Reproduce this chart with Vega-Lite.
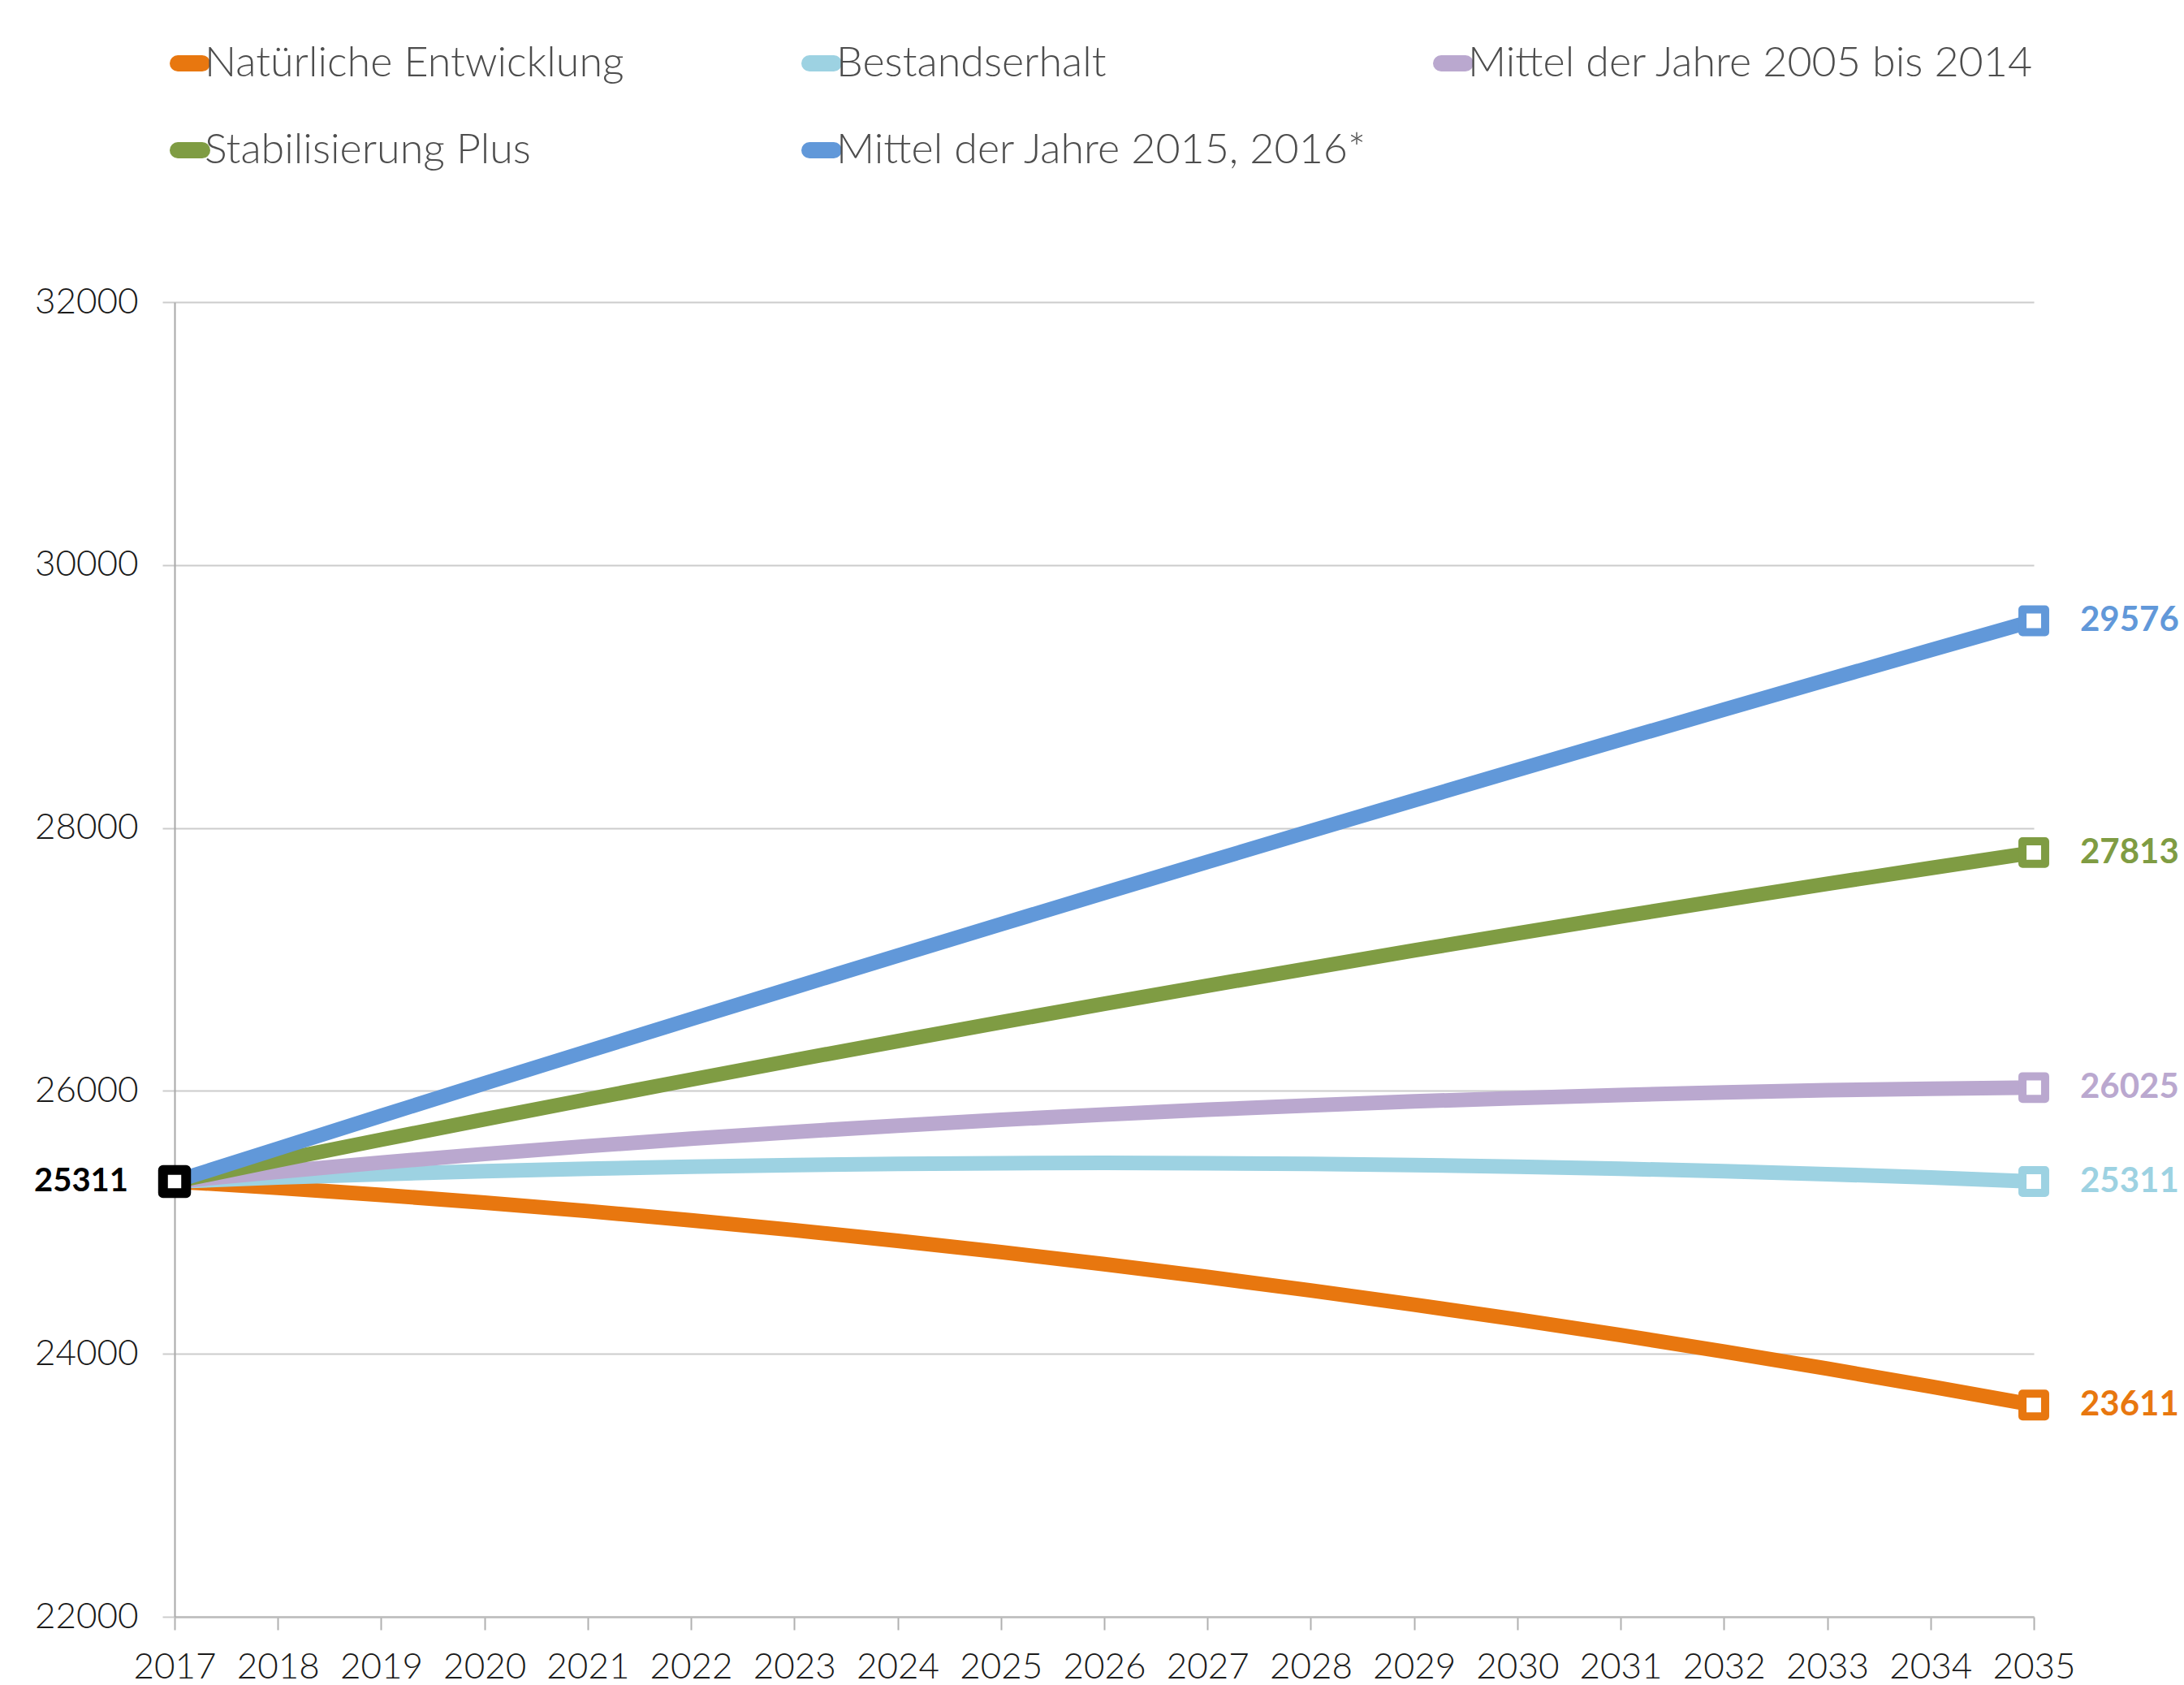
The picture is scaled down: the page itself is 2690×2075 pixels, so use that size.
{
  "$schema": "https://vega.github.io/schema/vega-lite/v6.json",
  "width": 2290,
  "height": 1619,
  "autosize": {"type": "none"},
  "padding": {"left": 215, "top": 372, "right": 185, "bottom": 84},
  "background": "white",
  "config": {
    "view": {"stroke": null},
    "font": "Lato",
    "axis": {"labelFont": "Lato", "labelFontWeight": 300, "labelColor": "#1a1a1a", "labelFontSize": 44, "titleFontSize": 0}
  },
  "data": {
    "values": [
      {"year": 2017, "series": "Natürliche Entwicklung", "value": 25311},
      {"year": 2018, "series": "Natürliche Entwicklung", "value": 25263},
      {"year": 2019, "series": "Natürliche Entwicklung", "value": 25209},
      {"year": 2020, "series": "Natürliche Entwicklung", "value": 25150},
      {"year": 2021, "series": "Natürliche Entwicklung", "value": 25086},
      {"year": 2022, "series": "Natürliche Entwicklung", "value": 25016},
      {"year": 2023, "series": "Natürliche Entwicklung", "value": 24941},
      {"year": 2024, "series": "Natürliche Entwicklung", "value": 24860},
      {"year": 2025, "series": "Natürliche Entwicklung", "value": 24774},
      {"year": 2026, "series": "Natürliche Entwicklung", "value": 24682},
      {"year": 2027, "series": "Natürliche Entwicklung", "value": 24585},
      {"year": 2028, "series": "Natürliche Entwicklung", "value": 24482},
      {"year": 2029, "series": "Natürliche Entwicklung", "value": 24374},
      {"year": 2030, "series": "Natürliche Entwicklung", "value": 24261},
      {"year": 2031, "series": "Natürliche Entwicklung", "value": 24142},
      {"year": 2032, "series": "Natürliche Entwicklung", "value": 24017},
      {"year": 2033, "series": "Natürliche Entwicklung", "value": 23887},
      {"year": 2034, "series": "Natürliche Entwicklung", "value": 23752},
      {"year": 2035, "series": "Natürliche Entwicklung", "value": 23611},
      {"year": 2017, "series": "Bestandserhalt", "value": 25311},
      {"year": 2018, "series": "Bestandserhalt", "value": 25341},
      {"year": 2019, "series": "Bestandserhalt", "value": 25367},
      {"year": 2020, "series": "Bestandserhalt", "value": 25389},
      {"year": 2021, "series": "Bestandserhalt", "value": 25408},
      {"year": 2022, "series": "Bestandserhalt", "value": 25424},
      {"year": 2023, "series": "Bestandserhalt", "value": 25436},
      {"year": 2024, "series": "Bestandserhalt", "value": 25445},
      {"year": 2025, "series": "Bestandserhalt", "value": 25450},
      {"year": 2026, "series": "Bestandserhalt", "value": 25452},
      {"year": 2027, "series": "Bestandserhalt", "value": 25450},
      {"year": 2028, "series": "Bestandserhalt", "value": 25445},
      {"year": 2029, "series": "Bestandserhalt", "value": 25436},
      {"year": 2030, "series": "Bestandserhalt", "value": 25424},
      {"year": 2031, "series": "Bestandserhalt", "value": 25408},
      {"year": 2032, "series": "Bestandserhalt", "value": 25389},
      {"year": 2033, "series": "Bestandserhalt", "value": 25367},
      {"year": 2034, "series": "Bestandserhalt", "value": 25341},
      {"year": 2035, "series": "Bestandserhalt", "value": 25311},
      {"year": 2017, "series": "Mittel der Jahre 2005 bis 2014", "value": 25311},
      {"year": 2018, "series": "Mittel der Jahre 2005 bis 2014", "value": 25385},
      {"year": 2019, "series": "Mittel der Jahre 2005 bis 2014", "value": 25455},
      {"year": 2020, "series": "Mittel der Jahre 2005 bis 2014", "value": 25520},
      {"year": 2021, "series": "Mittel der Jahre 2005 bis 2014", "value": 25580},
      {"year": 2022, "series": "Mittel der Jahre 2005 bis 2014", "value": 25636},
      {"year": 2023, "series": "Mittel der Jahre 2005 bis 2014", "value": 25688},
      {"year": 2024, "series": "Mittel der Jahre 2005 bis 2014", "value": 25736},
      {"year": 2025, "series": "Mittel der Jahre 2005 bis 2014", "value": 25780},
      {"year": 2026, "series": "Mittel der Jahre 2005 bis 2014", "value": 25820},
      {"year": 2027, "series": "Mittel der Jahre 2005 bis 2014", "value": 25857},
      {"year": 2028, "series": "Mittel der Jahre 2005 bis 2014", "value": 25890},
      {"year": 2029, "series": "Mittel der Jahre 2005 bis 2014", "value": 25920},
      {"year": 2030, "series": "Mittel der Jahre 2005 bis 2014", "value": 25946},
      {"year": 2031, "series": "Mittel der Jahre 2005 bis 2014", "value": 25969},
      {"year": 2032, "series": "Mittel der Jahre 2005 bis 2014", "value": 25989},
      {"year": 2033, "series": "Mittel der Jahre 2005 bis 2014", "value": 26005},
      {"year": 2034, "series": "Mittel der Jahre 2005 bis 2014", "value": 26017},
      {"year": 2035, "series": "Mittel der Jahre 2005 bis 2014", "value": 26025},
      {"year": 2017, "series": "Stabilisierung Plus", "value": 25311},
      {"year": 2018, "series": "Stabilisierung Plus", "value": 25471},
      {"year": 2019, "series": "Stabilisierung Plus", "value": 25629},
      {"year": 2020, "series": "Stabilisierung Plus", "value": 25784},
      {"year": 2021, "series": "Stabilisierung Plus", "value": 25936},
      {"year": 2022, "series": "Stabilisierung Plus", "value": 26086},
      {"year": 2023, "series": "Stabilisierung Plus", "value": 26234},
      {"year": 2024, "series": "Stabilisierung Plus", "value": 26379},
      {"year": 2025, "series": "Stabilisierung Plus", "value": 26522},
      {"year": 2026, "series": "Stabilisierung Plus", "value": 26662},
      {"year": 2027, "series": "Stabilisierung Plus", "value": 26800},
      {"year": 2028, "series": "Stabilisierung Plus", "value": 26935},
      {"year": 2029, "series": "Stabilisierung Plus", "value": 27068},
      {"year": 2030, "series": "Stabilisierung Plus", "value": 27198},
      {"year": 2031, "series": "Stabilisierung Plus", "value": 27326},
      {"year": 2032, "series": "Stabilisierung Plus", "value": 27452},
      {"year": 2033, "series": "Stabilisierung Plus", "value": 27575},
      {"year": 2034, "series": "Stabilisierung Plus", "value": 27695},
      {"year": 2035, "series": "Stabilisierung Plus", "value": 27813},
      {"year": 2017, "series": "Mittel der Jahre 2015, 2016*", "value": 25311},
      {"year": 2018, "series": "Mittel der Jahre 2015, 2016*", "value": 25561},
      {"year": 2019, "series": "Mittel der Jahre 2015, 2016*", "value": 25810},
      {"year": 2020, "series": "Mittel der Jahre 2015, 2016*", "value": 26057},
      {"year": 2021, "series": "Mittel der Jahre 2015, 2016*", "value": 26302},
      {"year": 2022, "series": "Mittel der Jahre 2015, 2016*", "value": 26546},
      {"year": 2023, "series": "Mittel der Jahre 2015, 2016*", "value": 26788},
      {"year": 2024, "series": "Mittel der Jahre 2015, 2016*", "value": 27029},
      {"year": 2025, "series": "Mittel der Jahre 2015, 2016*", "value": 27268},
      {"year": 2026, "series": "Mittel der Jahre 2015, 2016*", "value": 27506},
      {"year": 2027, "series": "Mittel der Jahre 2015, 2016*", "value": 27742},
      {"year": 2028, "series": "Mittel der Jahre 2015, 2016*", "value": 27977},
      {"year": 2029, "series": "Mittel der Jahre 2015, 2016*", "value": 28210},
      {"year": 2030, "series": "Mittel der Jahre 2015, 2016*", "value": 28441},
      {"year": 2031, "series": "Mittel der Jahre 2015, 2016*", "value": 28671},
      {"year": 2032, "series": "Mittel der Jahre 2015, 2016*", "value": 28900},
      {"year": 2033, "series": "Mittel der Jahre 2015, 2016*", "value": 29127},
      {"year": 2034, "series": "Mittel der Jahre 2015, 2016*", "value": 29352},
      {"year": 2035, "series": "Mittel der Jahre 2015, 2016*", "value": 29576}
    ]
  },
  "encoding": {
    "x": {
      "field": "year", "type": "quantitative",
      "scale": {"domain": [2017, 2035], "nice": false, "zero": false},
      "axis": {
        "title": null, "format": "d",
        "values": [2017,2018,2019,2020,2021,2022,2023,2024,2025,2026,2027,2028,2029,2030,2031,2032,2033,2034,2035],
        "grid": false, "domainColor": "#bdbdbd", "domainWidth": 2.5,
        "tickColor": "#b0b0b0", "tickWidth": 2, "tickSize": 16,
        "labelPadding": 24, "labelFlush": false, "labelOverlap": false
      }
    },
    "y": {
      "field": "value", "type": "quantitative",
      "scale": {"domain": [22000, 32000], "nice": false, "zero": false},
      "axis": {
        "title": null, "format": "d",
        "values": [22000, 24000, 26000, 28000, 30000, 32000],
        "grid": true, "gridColor": "#cccccc", "gridWidth": 2,
        "domainColor": "#a8a8a8", "domainWidth": 2,
        "tickColor": "#cccccc", "tickWidth": 2, "tickSize": 15,
        "labelPadding": 30, "labelBaseline": "middle", "labelFlush": false
      }
    }
  },
  "layer": [
    {
      "mark": {"type": "line", "strokeWidth": 18, "strokeCap": "butt", "strokeJoin": "round"},
      "encoding": {
        "color": {
          "field": "series", "type": "nominal",
          "scale": {
            "domain": ["Natürliche Entwicklung", "Bestandserhalt", "Mittel der Jahre 2005 bis 2014", "Stabilisierung Plus", "Mittel der Jahre 2015, 2016*"],
            "range": ["#E8770F", "#9DD2E2", "#BAA8CF", "#7F9C43", "#6198D9"]
          },
          "legend": {
            "title": null,
            "orient": "none",
            "legendX": -7,
            "legendY": -320,
            "direction": "horizontal",
            "columns": 3,
            "gridAlign": "all",
            "columnPadding": 7,
            "rowPadding": 27,
            "padding": 0,
            "symbolType": "stroke",
            "symbolSize": 900,
            "symbolStrokeWidth": 20,
            "labelFont": "Lato",
            "labelFontWeight": 300,
            "labelFontSize": 52,
            "labelColor": "#4d4d4d",
            "labelOffset": -8,
            "labelLimit": 2000,
            "encode": {"symbols": {"update": {"strokeCap": {"value": "round"}}}}
          }
        },
        "order": {"field": "year", "type": "quantitative"}
      }
    },
    {
      "transform": [{"filter": "datum.year == 2035"}],
      "mark": {"type": "point", "shape": "square", "size": 780, "filled": false, "fill": "white", "fillOpacity": 1, "strokeWidth": 10, "strokeJoin": "round", "opacity": 1},
      "encoding": {
        "stroke": {
          "field": "series", "type": "nominal", "legend": null,
          "scale": {
            "domain": ["Natürliche Entwicklung", "Bestandserhalt", "Mittel der Jahre 2005 bis 2014", "Stabilisierung Plus", "Mittel der Jahre 2015, 2016*"],
            "range": ["#E8770F", "#9DD2E2", "#BAA8CF", "#7F9C43", "#6198D9"]
          }
        }
      }
    },
    {
      "transform": [{"filter": "datum.year == 2017 && datum.series == 'Natürliche Entwicklung'"}],
      "mark": {"type": "point", "shape": "square", "size": 810, "filled": false, "fill": "white", "fillOpacity": 1, "stroke": "#000000", "strokeWidth": 12, "strokeJoin": "round", "opacity": 1}
    },
    {
      "transform": [{"filter": "datum.year == 2017 && datum.series == 'Natürliche Entwicklung'"}],
      "mark": {"type": "text", "align": "right", "baseline": "middle", "dx": -57, "fontSize": 40, "fontWeight": "bold", "font": "Lato", "color": "#000000"},
      "encoding": {"text": {"field": "value", "type": "quantitative", "format": "d"}}
    },
    {
      "transform": [{"filter": "datum.year == 2035"}],
      "mark": {"type": "text", "align": "left", "baseline": "middle", "dx": 57, "fontSize": 42, "fontWeight": "bold", "font": "Lato"},
      "encoding": {
        "text": {"field": "value", "type": "quantitative", "format": "d"},
        "fill": {
          "field": "series", "type": "nominal", "legend": null,
          "scale": {
            "domain": ["Natürliche Entwicklung", "Bestandserhalt", "Mittel der Jahre 2005 bis 2014", "Stabilisierung Plus", "Mittel der Jahre 2015, 2016*"],
            "range": ["#E8770F", "#9DD2E2", "#BAA8CF", "#7F9C43", "#6198D9"]
          }
        }
      }
    }
  ]
}
